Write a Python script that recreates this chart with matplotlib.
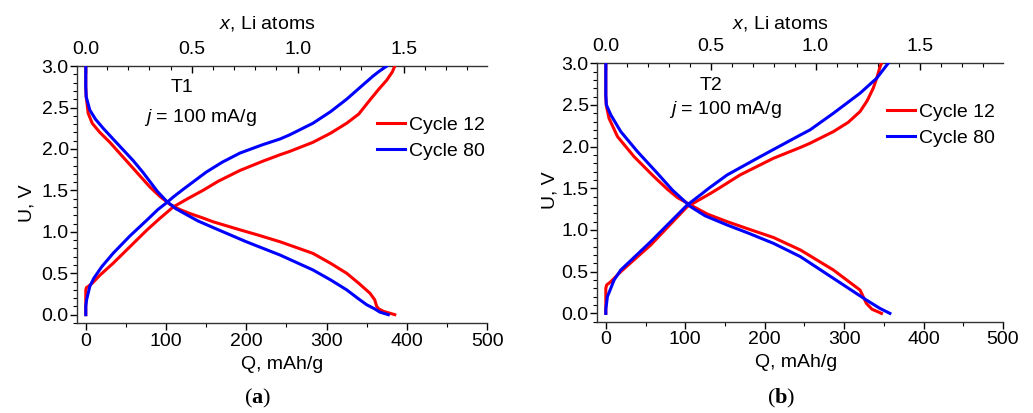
import matplotlib
matplotlib.use('Agg')
import matplotlib.pyplot as plt
from matplotlib.ticker import MultipleLocator, FixedLocator

plt.rcParams['font.family'] = 'Liberation Sans'
plt.rcParams['font.size'] = 14
plt.rcParams['mathtext.fontset'] = 'custom'
plt.rcParams['mathtext.it'] = 'Liberation Sans:italic'
plt.rcParams['mathtext.rm'] = 'Liberation Sans'
plt.rcParams['mathtext.bf'] = 'Liberation Serif:bold'

Q_PER_LI = 264.0  # mAh/g per Li atom

# panel (a), T1
t1_c12_dis_q = [0, 0, 0.5, 3, 8, 17.5, 30, 42, 55, 67, 80, 92, 105, 117, 130, 145, 159, 190, 215, 242, 283, 305, 325, 340, 354, 360, 362.5, 365, 371, 378, 385]
t1_c12_dis_u = [3.0, 2.75, 2.63, 2.43, 2.31, 2.2, 2.08, 1.95, 1.81, 1.68, 1.54, 1.43, 1.33, 1.27, 1.22, 1.17, 1.12, 1.03, 0.96, 0.88, 0.74, 0.62, 0.5, 0.38, 0.26, 0.18, 0.1, 0.07, 0.04, 0.02, 0.0]
t1_c80_dis_q = [0, 0, 0.5, 5, 12, 21.6, 34, 46.5, 59, 71, 82, 89, 100.6, 112, 125, 140, 159, 200, 242, 283, 305, 325, 340, 350, 360, 366.6, 377]
t1_c80_dis_u = [3.0, 2.75, 2.63, 2.47, 2.36, 2.25, 2.12, 1.99, 1.86, 1.72, 1.58, 1.49, 1.37, 1.28, 1.21, 1.13, 1.05, 0.88, 0.72, 0.54, 0.42, 0.3, 0.19, 0.12, 0.07, 0.03, 0.0]
t1_c12_ch_q = [0, 0, 0, 1, 3, 8, 18, 34, 55, 76, 92, 109, 127, 146, 165, 192, 220, 242, 254, 283, 305, 325, 340, 354, 365, 375, 382, 385]
t1_c12_ch_u = [0.0, 0.15, 0.3, 0.33, 0.34, 0.38, 0.48, 0.62, 0.82, 1.02, 1.16, 1.3, 1.4, 1.5, 1.61, 1.74, 1.85, 1.93, 1.97, 2.08, 2.19, 2.31, 2.42, 2.59, 2.72, 2.83, 2.93, 3.0]
t1_c80_ch_q = [0, 0, 1, 3, 5, 10, 20, 34, 55, 76, 90, 100.6, 109, 121, 150, 170, 192, 220, 242, 254, 283, 305, 325, 345, 358, 366, 375]
t1_c80_ch_u = [0.0, 0.1, 0.18, 0.26, 0.34, 0.44, 0.58, 0.74, 0.95, 1.14, 1.27, 1.35, 1.42, 1.51, 1.72, 1.84, 1.95, 2.05, 2.12, 2.17, 2.31, 2.45, 2.6, 2.77, 2.88, 2.94, 3.0]

# panel (b), T2
t2_c12_dis_q = [0, 0, 0.5, 4, 14.7, 35.5, 60.6, 77.4, 90, 106.6, 128, 152.7, 180, 211, 245, 286.5, 320, 324, 328, 335, 347]
t2_c12_dis_u = [3.0, 2.6, 2.5, 2.34, 2.12, 1.88, 1.64, 1.49, 1.39, 1.3, 1.19, 1.1, 1.01, 0.91, 0.76, 0.52, 0.28, 0.2, 0.12, 0.05, 0.0]
t2_c80_dis_q = [0, 0, 0.7, 6.3, 18.8, 39.8, 64.9, 83.7, 106.6, 125, 152.7, 180, 211, 245, 286.5, 328, 345, 357.6]
t2_c80_dis_u = [3.0, 2.62, 2.5, 2.38, 2.18, 1.94, 1.68, 1.48, 1.28, 1.17, 1.06, 0.96, 0.84, 0.68, 0.42, 0.16, 0.06, 0.0]
t2_c12_ch_q = [0, 0, 1, 6.3, 18.8, 56.5, 102.5, 132, 144, 169, 211, 245, 257, 286.5, 305, 320, 329, 336.6, 341, 345, 347]
t2_c12_ch_u = [0.0, 0.3, 0.34, 0.38, 0.5, 0.82, 1.28, 1.44, 1.51, 1.66, 1.86, 1.99, 2.04, 2.18, 2.29, 2.42, 2.55, 2.7, 2.82, 2.95, 3.0]
t2_c80_ch_q = [0, 0, 2, 10.4, 18.8, 56.5, 102.5, 119, 129.6, 152.7, 194.5, 245, 257, 286.5, 320, 341, 355.5]
t2_c80_ch_u = [0.0, 0.05, 0.2, 0.4, 0.52, 0.86, 1.3, 1.42, 1.5, 1.66, 1.88, 2.14, 2.2, 2.4, 2.64, 2.82, 3.0]

panels = [
    dict(name='T1', cap='a', pos=[0.0745, 0.218, 0.397, 0.622],
         c12=[(t1_c12_dis_q, t1_c12_dis_u), (t1_c12_ch_q, t1_c12_ch_u)],
         c80=[(t1_c80_dis_q, t1_c80_dis_u), (t1_c80_ch_q, t1_c80_ch_u)],
         t_xy=(120, 2.74), j_xy=(143, 2.38), leg=(0.732, 0.72),
         ylab=(-0.10, 0.467), xlab=(0.5, -0.129), toplab=(0.463, 1.167), capx=0.249),
    dict(name='T2', cap='b', pos=[0.578, 0.221, 0.393, 0.626],
         c12=[(t2_c12_dis_q, t2_c12_dis_u), (t2_c12_ch_q, t2_c12_ch_u)],
         c80=[(t2_c80_dis_q, t2_c80_dis_u), (t2_c80_ch_q, t2_c80_ch_u)],
         t_xy=(133, 2.73), j_xy=(151, 2.44), leg=(0.714, 0.76),
         ylab=(-0.094, 0.509), xlab=(0.49, -0.125), toplab=(0.451, 1.155), capx=0.756),
]

fig = plt.figure(figsize=(10.33, 4.13), dpi=100)

for p in panels:
    ax = fig.add_axes(p['pos'])
    for i, (q, u) in enumerate(p['c12']):
        ax.plot(q, u, color='#ff0000', lw=2.2, label='Cycle 12' if i == 0 else None)
    for i, (q, u) in enumerate(p['c80']):
        ax.plot(q, u, color='#0000ff', lw=2.2, label='Cycle 80' if i == 0 else None)

    ax.set_xlim(-11, 500)
    ax.set_ylim(-0.1, 3.0)
    ax.spines['right'].set_visible(False)
    ax.spines['top'].set_visible(False)
    for s in ax.spines.values():
        s.set_linewidth(1.0)
        s.set_color('#333333')

    ax.xaxis.set_major_locator(MultipleLocator(100))
    ax.xaxis.set_minor_locator(MultipleLocator(50))
    ax.yaxis.set_major_locator(MultipleLocator(0.5))
    ax.yaxis.set_minor_locator(MultipleLocator(0.1))
    ax.yaxis.set_major_formatter(plt.FormatStrFormatter('%.1f'))
    ax.tick_params(which='major', direction='out', length=5, width=1, pad=2)
    ax.tick_params(which='minor', direction='out', length=3, width=0.8)
    ax.tick_params(axis='y', which='major', pad=1)

    top = ax.secondary_xaxis('top', functions=(lambda q: q / Q_PER_LI, lambda x: x * Q_PER_LI))
    top.spines['top'].set_linewidth(1.0)
    top.spines['top'].set_color('#333333')
    top.xaxis.set_major_locator(FixedLocator([0.0, 0.5, 1.0, 1.5]))
    top.xaxis.set_minor_locator(FixedLocator([0.1, 0.2, 0.3, 0.4, 0.6, 0.7, 0.8, 0.9,
                                              1.1, 1.2, 1.3, 1.4, 1.6, 1.7, 1.8]))
    top.xaxis.set_major_formatter(plt.FormatStrFormatter('%.1f'))
    top.tick_params(which='major', direction='in', length=5, width=1, pad=6)
    top.tick_params(which='minor', direction='in', length=3, width=0.8)
    ax.text(p['toplab'][0], p['toplab'][1], '$x$, Li atoms', transform=ax.transAxes,
            ha='center', va='center')

    ax.set_xlabel('Q, mAh/g')
    ax.set_ylabel('U, V')
    ax.xaxis.set_label_coords(*p['xlab'])
    ax.yaxis.set_label_coords(*p['ylab'])

    ax.text(p['t_xy'][0], p['t_xy'][1], p['name'], ha='center', va='center')
    ax.text(p['j_xy'][0], p['j_xy'][1], '$j$ = 100 mA/g', ha='center', va='center')

    ax.legend(loc='center left', bbox_to_anchor=p['leg'], frameon=False,
              borderpad=0, borderaxespad=0, handlelength=1.45, handletextpad=0.2,
              labelspacing=0.45)

    fig.text(p['capx'], 0.036, '($\\mathbf{' + p['cap'] + '}$)', ha='center', va='center',
             family='Liberation Serif', fontsize=16)

fig.savefig('out.png', dpi=100)
